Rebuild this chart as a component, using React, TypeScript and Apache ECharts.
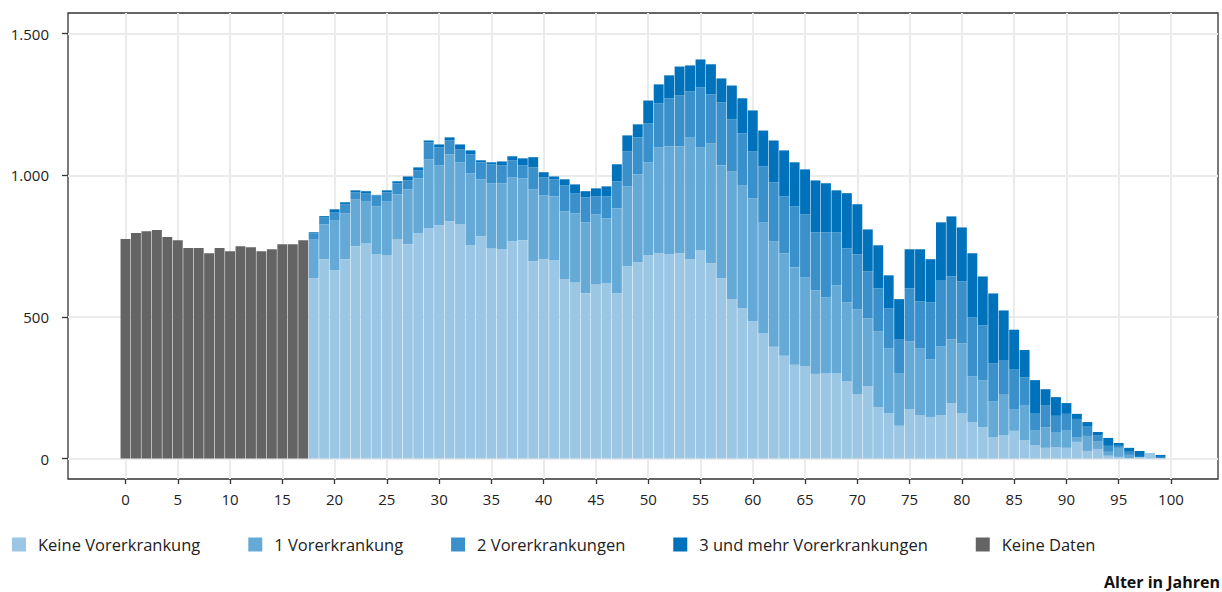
import React, { useEffect, useRef } from 'react';
import * as echarts from 'echarts';

// Ages 0–17: no data on pre-existing conditions
const keineDatenWerte = [775, 796, 803, 807, 782, 771, 743, 743, 725, 743, 732, 750, 746, 732, 739, 757, 757, 771];
// Ages 18–99
const firstAgeWithData = 18;
const keineVorerkrankung = [636, 704, 665, 704, 750, 761, 722, 717, 775, 757, 795, 813, 824, 838, 827, 753, 785, 743, 739, 767, 771, 697, 704, 701, 634, 623, 584, 616, 620, 584, 679, 693, 718, 725, 722, 725, 704, 736, 690, 637, 563, 531, 485, 442, 395, 363, 331, 327, 299, 302, 302, 274, 228, 256, 182, 161, 116, 175, 154, 147, 154, 196, 161, 129, 111, 76, 83, 98, 66, 48, 38, 41, 38, 59, 27, 34, 10, 6, 2, 6, 20, 2];
const eineVorerkrankung = [139, 123, 177, 162, 166, 148, 168, 192, 158, 193, 194, 243, 211, 236, 219, 254, 201, 229, 233, 226, 218, 253, 225, 225, 239, 243, 250, 246, 228, 299, 282, 310, 328, 374, 380, 377, 430, 363, 423, 398, 451, 433, 434, 392, 372, 362, 344, 313, 295, 267, 310, 278, 299, 239, 268, 229, 186, 239, 236, 204, 243, 225, 246, 162, 166, 127, 145, 77, 123, 53, 73, 53, 63, 17, 53, 28, 14, 32, 11, 0, 0, 0];
const zweiVorerkrankungen = [20, 24, 28, 32, 24, 28, 39, 31, 39, 32, 29, 60, 64, 49, 45, 67, 60, 67, 63, 60, 46, 78, 64, 60, 91, 71, 88, 64, 78, 96, 123, 131, 137, 155, 170, 180, 162, 211, 173, 222, 183, 184, 165, 198, 208, 201, 215, 222, 205, 230, 187, 190, 194, 166, 151, 141, 120, 187, 165, 201, 231, 222, 219, 208, 193, 134, 120, 141, 98, 60, 78, 57, 57, 64, 35, 21, 21, 7, 11, 0, 0, 4];
const dreiUndMehr = [4, 5, 10, 7, 7, 7, 2, 7, 7, 14, 10, 7, 10, 11, 18, 14, 7, 7, 14, 14, 25, 36, 18, 10, 22, 31, 22, 28, 35, 60, 57, 46, 81, 67, 81, 102, 92, 99, 106, 85, 120, 124, 145, 126, 148, 162, 156, 159, 183, 173, 148, 195, 177, 148, 152, 116, 141, 138, 184, 152, 206, 212, 190, 226, 173, 246, 175, 139, 96, 116, 56, 66, 38, 18, 14, 11, 28, 10, 14, 21, 0, 7];

const seriesNames = ['Keine Vorerkrankung', '1 Vorerkrankung', '2 Vorerkrankungen', '3 und mehr Vorerkrankungen', 'Keine Daten'];
const seriesColors = ['#9bc7e5', '#65aad7', '#3990cb', '#0072bb', '#646464'];
const xTicks = [0, 5, 10, 15, 20, 25, 30, 35, 40, 45, 50, 55, 60, 65, 70, 75, 80, 85, 90, 95, 100];
const yTicks = [0, 500, 1000, 1500];
const xAxisTitle = 'Alter in Jahren';
// axis padding (in years) on both sides of the age range, as in the original plot
const axisPadYears = 5;

const FONT = '"Open Sans", "Noto Sans", sans-serif';

function fmt(v: number): string {
  if (v >= 1000) {
    const t = Math.floor(v / 1000);
    const r = String(v % 1000).padStart(3, '0');
    return `${t}.${r}`;
  }
  return String(v);
}

export default function App() {
  const ref = useRef<HTMLDivElement>(null);

  useEffect(() => {
    document.body.style.margin = '0';
    if (!ref.current) return;
    const chart = echarts.init(ref.current, null, { renderer: 'svg' });

    const nAges = firstAgeWithData + keineVorerkrankung.length; // 0..99
    // category slots from -5 to 104 so the band extent is -5.5 .. 104.5
    const slots: number[] = [];
    for (let a = -axisPadYears; a < nAges + axisPadYears; a++) slots.push(a);

    const valueAt = (arr: number[], offset: number, a: number) => {
      const i = a - offset;
      return i >= 0 && i < arr.length ? arr[i] : 0;
    };

    const valueSets = [
      slots.map((a) => valueAt(keineVorerkrankung, firstAgeWithData, a)),
      slots.map((a) => valueAt(eineVorerkrankung, firstAgeWithData, a)),
      slots.map((a) => valueAt(zweiVorerkrankungen, firstAgeWithData, a)),
      slots.map((a) => valueAt(dreiUndMehr, firstAgeWithData, a)),
      slots.map((a) => valueAt(keineDatenWerte, 0, a)),
    ];

    const series = valueSets.map((vals, idx) => ({
      name: seriesNames[idx],
      type: 'bar',
      stack: 'total',
      xAxisIndex: 0,
      barCategoryGap: '5%',
      itemStyle: { color: seriesColors[idx] },
      emphasis: { disabled: true },
      data: vals,
    }));

    chart.setOption({
      animation: false,
      backgroundColor: '#ffffff',
      textStyle: { fontFamily: FONT },
      grid: { left: 68, right: 4, top: 13, bottom: 113, show: true, borderColor: '#333333', borderWidth: 1.3, backgroundColor: 'transparent' },
      legend: {
        left: 7,
        top: 531,
        itemWidth: 14,
        itemHeight: 14,
        itemGap: 48,
        icon: 'rect',
        selectedMode: false,
        textStyle: { fontSize: 16.5, color: '#222222', fontFamily: FONT, padding: [0, 0, 0, 7] },
        data: seriesNames,
      },
      xAxis: [
        {
          type: 'category',
          data: slots.map(String),
          boundaryGap: true,
          show: false,
        },
        {
          type: 'value',
          min: -axisPadYears - 0.5,
          max: nAges - 1 + axisPadYears + 0.5,
          position: 'bottom',
          axisLine: { show: false, onZero: false },
          axisTick: { show: true, length: 5, lineStyle: { color: '#333333', width: 1.3 }, customValues: xTicks },
          axisLabel: { customValues: xTicks, margin: 12, fontSize: 15, color: '#222222', fontFamily: FONT },
          splitLine: { show: true, lineStyle: { color: '#ebebeb', width: 2 } },
        },
      ],
      yAxis: {
        type: 'value',
        min: -72,
        max: 1573,
        axisLine: { show: false, onZero: false },
        axisTick: { show: true, length: 6, lineStyle: { color: '#333333', width: 1.3 }, customValues: yTicks },
        axisLabel: { customValues: yTicks, margin: 19, fontSize: 15, color: '#222222', fontFamily: FONT, formatter: (v: number) => fmt(v) },
        splitLine: { show: true, lineStyle: { color: '#ebebeb', width: 2 } },
      },
      graphic: [
        {
          type: 'text',
          right: 2,
          top: 574,
          style: { text: xAxisTitle, fontSize: 16, fontWeight: 'bold', fill: '#111111', fontFamily: FONT },
        },
      ],
      series,
    });

    return () => chart.dispose();
  }, []);

  return <div ref={ref} style={{ width: 1222, height: 592 }} />;
}
